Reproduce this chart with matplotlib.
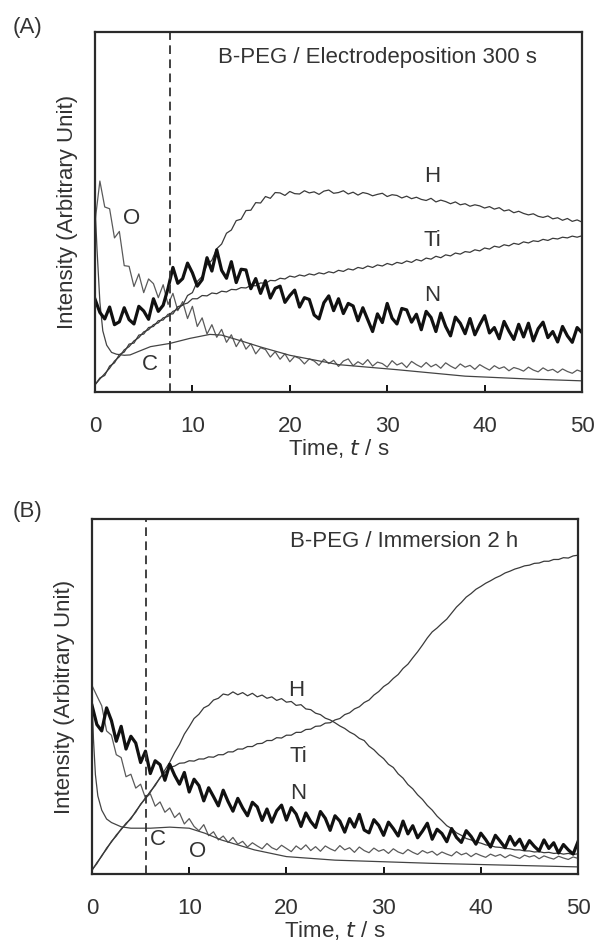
import numpy as np
import matplotlib
matplotlib.use("Agg")
import matplotlib.pyplot as plt

plt.rcParams['font.family'] = ['Liberation Sans', 'DejaVu Sans']

# ---------------- common time grid (s) for sampled noisy traces ----------------
t_grid = np.arange(0, 50.01, 0.5)

# ---------------- Panel A: B-PEG / Electrodeposition 300 s ----------------
A_H = [2.0, 3.9, 4.6, 7.2, 8.1, 10.4, 11.1, 13.3, 13.6, 15.8, 16.1, 17.9, 18.2, 19.8, 20.0, 21.6, 21.7, 23.7, 24.1, 26.8,
       27.6, 30.7, 32.1, 35.3, 36.6, 39.8, 41.1, 44.1, 45.0, 47.6, 48.0, 50.4, 50.5, 52.6, 52.5, 54.3, 53.8, 55.4,
       55.3, 54.6, 55.7, 55.1, 55.0, 55.9, 55.3, 55.6, 54.9, 55.8, 56.1, 55.2, 55.4, 55.9, 55.0, 55.5, 54.7, 55.4,
       55.1, 54.5, 54.9, 55.2, 54.3, 54.8, 54.6, 53.9, 54.4, 53.7, 54.1, 53.5, 53.2, 53.8, 52.8, 53.3, 52.9, 52.3,
       52.8, 52.0, 52.3, 51.6, 52.0, 51.7, 51.1, 51.5, 50.8, 51.2, 50.3, 50.6, 49.8, 50.2, 49.6, 49.2, 49.5, 48.8,
       48.5, 48.9, 48.1, 48.4, 47.7, 48.2, 47.4, 47.8, 47.2]
A_Ti = [2.0, 3.6, 5.1, 6.6, 8.6, 9.8, 11.7, 12.6, 14.2, 15.1, 16.7, 17.3, 18.7, 19.2, 20.6, 21.0, 22.4, 23.0, 24.3, 24.7,
        25.9, 25.9, 26.8, 26.7, 27.5, 27.3, 28.0, 27.8, 28.5, 28.4, 29.0, 28.9, 29.6, 29.5, 30.3, 30.2, 31.0, 30.9, 31.6, 31.4,
        32.2, 31.9, 32.5, 32.2, 32.8, 32.5, 33.1, 32.8, 33.4, 33.1, 33.8, 33.5, 34.2, 33.9, 34.6, 34.3, 35.0, 34.6, 35.3, 35.0,
        35.7, 35.3, 36.0, 35.7, 36.4, 36.0, 36.8, 36.4, 37.2, 36.9, 37.7, 37.3, 38.1, 37.8, 38.6, 38.3, 39.0, 38.8, 39.5, 39.2,
        40.0, 39.7, 40.5, 40.2, 40.9, 40.6, 41.3, 41.0, 41.7, 41.4, 42.0, 41.8, 42.4, 42.1, 42.7, 42.5, 43.0, 42.8, 43.3, 43.0,
        43.4]
A_O = [47.2, 58.6, 51.4, 50.9, 42.8, 44.6, 35.1, 34.9, 29.3, 32.8, 27.6, 31.4, 30.1, 26.2, 29.8, 24.3, 27.4, 22.6, 25.1, 20.4,
       23.8, 18.2, 20.6, 16.1, 18.7, 15.2, 17.4, 13.8, 15.9, 12.6, 14.8, 11.9, 13.4, 10.6, 12.3, 11.8, 9.7, 11.2, 9.1, 10.6,
       8.4, 9.9, 9.3, 7.8, 9.2, 8.6, 7.4, 9.1, 7.9, 8.8, 7.1, 8.6, 9.2, 7.3, 8.4, 7.6, 9.0, 7.2, 8.3, 7.9,
       6.9, 8.7, 7.5, 8.1, 6.8, 8.5, 7.6, 6.9, 8.2, 7.0, 7.7, 6.6, 8.1, 7.2, 6.5, 7.8, 6.9, 7.4, 6.3, 7.6,
       6.8, 6.1, 7.3, 6.5, 7.0, 5.9, 6.8, 6.4, 5.8, 6.9, 6.1, 5.6, 6.7, 5.9, 6.3, 5.4, 6.4, 5.7, 5.2, 6.1,
       5.6]
A_N = [25.8, 22.1, 20.3, 23.6, 18.7, 19.5, 23.4, 20.1, 18.9, 23.8, 22.5, 20.2, 25.9, 22.4, 24.1, 28.8, 34.6, 30.2, 31.5, 35.8,
       33.1, 29.4, 31.2, 37.3, 33.6, 39.5, 33.8, 31.6, 36.2, 30.4, 34.1, 33.9, 28.7, 31.5, 27.4, 30.9, 26.1, 28.8, 29.4, 24.9,
       26.8, 28.3, 23.6, 26.2, 25.7, 21.4, 20.3, 24.8, 26.7, 22.6, 25.9, 21.8, 24.6, 23.9, 19.8, 23.4, 20.1, 16.8, 21.7, 19.3,
       24.6, 20.5, 18.9, 23.2, 22.8, 19.4, 21.6, 17.3, 22.4, 20.7, 16.8, 21.9, 18.2, 15.6, 20.8, 19.1, 16.2, 20.4, 15.9, 18.7,
       21.2, 16.4, 17.9, 14.8, 19.6, 16.9, 14.6, 18.8, 15.3, 19.1, 14.2, 17.6, 19.4, 15.1, 16.8, 13.9, 18.2, 15.6, 13.8, 17.9,
       16.5]
A_C_t = [0, 0.2, 0.5, 0.8, 1.2, 1.7, 2.2, 3.0, 3.6, 4.5, 5.7, 7.7, 9.75, 11.8, 13.0, 15.0, 17.0, 20.0, 25.0, 31.0, 38.0, 44.6, 50.0]
A_C = [52, 40, 25, 17, 13, 11, 10.5, 10.2, 10.3, 11.3, 12.6, 13.5, 14.9, 16.0, 15.8, 14.2, 12.5, 10.2, 7.6, 6.2, 4.4, 3.6, 3.1]

# ---------------- Panel B: B-PEG / Immersion 2 h ----------------
B_H = [1.0, 3.2, 5.0, 7.3, 9.0, 11.0, 12.5, 14.3, 15.5, 17.7, 19.5, 21.5, 23.0, 25.2, 27.0, 29.3, 31.5, 34.2, 36.5, 39.4,
       41.5, 43.8, 45.0, 46.8, 47.5, 49.0, 49.5, 50.7, 50.4, 51.3, 50.5, 51.1, 50.2, 50.9, 49.9, 50.4, 49.5, 49.9, 48.9, 49.4,
       48.4, 48.6, 47.5, 47.7, 46.5, 46.3, 45.3, 44.9, 43.9, 43.4, 42.6, 41.7, 41.0, 40.0, 39.3, 38.2, 37.6, 36.0, 35.0, 33.6,
       32.5, 30.9, 30.0, 28.2, 27.0, 25.2, 24.0, 22.3, 21.0, 19.3, 18.0, 16.3, 15.0, 13.6, 12.8, 11.6, 10.9, 10.0, 9.6, 9.0,
       8.7, 8.2, 8.0, 7.6, 7.5, 7.2, 7.1, 6.8, 6.8, 6.5, 6.5, 6.2, 6.3, 6.0, 6.1, 5.8, 5.9, 5.6, 5.8, 5.5,
       5.7]
B_Ti = [1.2, 2.9, 5.2, 7.0, 9.2, 10.7, 12.7, 14.0, 15.8, 17.4, 19.7, 21.2, 23.3, 24.9, 27.2, 28.6, 30.0, 30.4, 31.2, 31.3,
        31.9, 31.8, 32.4, 32.4, 33.0, 32.9, 33.6, 33.6, 34.4, 34.4, 35.2, 35.2, 35.9, 35.9, 36.7, 36.8, 37.6, 37.6, 38.4, 38.3,
        39.1, 39.1, 39.9, 39.9, 40.7, 40.8, 41.6, 41.7, 42.5, 42.6, 43.4, 43.8, 44.9, 45.4, 46.5, 47.1, 48.3, 49.0, 50.4, 51.4,
        52.8, 53.7, 55.1, 56.2, 57.9, 59.1, 60.9, 62.6, 64.5, 66.5, 68.2, 69.3, 70.6, 71.8, 73.5, 75.2, 76.5, 78.0, 79.0, 80.2,
        81.0, 81.9, 82.6, 83.4, 84.0, 84.8, 85.3, 85.9, 86.3, 86.8, 87.0, 87.5, 87.6, 88.1, 88.1, 88.6, 88.6, 89.1, 89.0, 89.6,
        89.8]
B_O = [53.1, 50.2, 47.4, 40.3, 39.1, 33.6, 32.8, 27.4, 28.1, 24.2, 25.3, 21.4, 22.6, 19.1, 20.3, 17.4, 18.6, 15.9, 17.2, 14.1,
       15.6, 13.4, 12.2, 13.9, 10.8, 11.9, 9.6, 10.7, 8.9, 10.3, 8.4, 9.2, 7.6, 8.8, 7.9, 7.1, 8.6, 7.4, 6.8, 8.1,
       7.2, 6.3, 7.9, 6.9, 8.2, 6.6, 7.7, 6.4, 7.9, 7.1, 6.5, 8.0, 6.8, 7.4, 6.1, 7.6, 6.6, 6.0, 7.3, 6.4,
       6.9, 5.8, 7.1, 6.2, 5.7, 6.9, 6.1, 5.5, 6.6, 5.9, 6.4, 5.3, 6.2, 5.6, 5.1, 6.3, 5.4, 5.9, 4.9, 5.8,
       5.2, 4.7, 5.6, 5.0, 5.5, 4.6, 5.4, 4.9, 4.4, 5.3, 4.8, 5.2, 4.3, 5.1, 4.6, 4.2, 5.0, 4.5, 4.1, 4.8,
       4.4]
B_N = [47.5, 42.1, 40.3, 46.8, 43.2, 37.4, 41.6, 35.2, 38.8, 36.9, 31.4, 34.6, 28.3, 31.9, 30.8, 26.4, 30.9, 27.8, 25.3, 28.6,
       23.1, 26.7, 24.9, 20.6, 24.3, 21.8, 19.2, 23.6, 20.4, 17.7, 21.3, 18.6, 16.4, 20.2, 18.9, 15.1, 18.3, 14.6, 17.8, 19.4,
       15.2, 18.7, 16.9, 13.4, 17.2, 14.8, 13.1, 17.6, 15.7, 12.3, 16.4, 14.9, 11.8, 15.6, 13.2, 16.8, 12.4, 11.6, 15.3, 13.7,
       10.9, 14.6, 12.8, 10.7, 14.9, 11.3, 13.6, 10.2, 12.1, 14.3, 9.8, 12.6, 11.4, 9.1, 12.8, 10.3, 8.9, 12.2, 10.6, 8.4,
       11.5, 9.7, 7.6, 10.9, 9.2, 7.4, 10.6, 8.1, 9.8, 6.9, 9.4, 7.8, 6.5, 9.6, 7.2, 8.8, 5.9, 8.3, 6.8, 5.6,
       9.1]
B_C_t = [0, 0.15, 0.35, 0.6, 1.0, 1.5, 2.0, 3.0, 4.0, 6.0, 8.0, 10.0, 11.6, 13.3, 16.7, 20.0, 25.0, 35.0, 50.0]
B_C = [50, 38, 28, 22, 18, 15.5, 14.5, 13.3, 12.9, 12.9, 13.2, 12.9, 11.5, 9.6, 6.8, 4.9, 3.9, 3.0, 2.0]

x_ticks = [0, 10, 20, 30, 40, 50]
dash_A = 7.7
dash_B = 5.6

panels = [
    dict(rect=[95/595, 1-392/944, 487/595, 360/944], H=A_H, Ti=A_Ti, O=A_O, N=A_N, Ct=A_C_t, C=A_C,
         dash=dash_A, title="B-PEG / Electrodeposition 300 s", title_xy=(12.6, 93),
         labels={"O": (3.8, 48.3), "C": (5.6, 7.5), "H": (34.6, 59.8), "Ti": (34.6, 42.2), "N": (34.6, 26.9)},
         tag="(A)", tag_y=27),
    dict(rect=[92/595, 1-874/944, 486/595, 355/944], H=B_H, Ti=B_Ti, O=B_O, N=B_N, Ct=B_C_t, C=B_C,
         dash=dash_B, title="B-PEG / Immersion 2 h", title_xy=(20.4, 93.6),
         labels={"H": (21.0, 51.8), "Ti": (21.2, 33.0), "N": (21.2, 22.7), "C": (6.8, 9.6), "O": (10.9, 6.3)},
         tag="(B)", tag_y=512),
]

fig = plt.figure(figsize=(5.95, 9.44), dpi=100)
FS = 16
for p in panels:
    ax = fig.add_axes(p["rect"])
    ax.plot(t_grid, p["O"], color="#5a5a5a", lw=0.9)
    ax.plot(p["Ct"], p["C"], color="#444444", lw=0.9)
    ax.plot(t_grid, p["H"], color="#3a3a3a", lw=0.9)
    ax.plot(t_grid, p["Ti"], color="#3a3a3a", lw=0.9)
    ax.plot(t_grid, p["N"], color="#111111", lw=2.3)
    ax.axvline(p["dash"], color="#333333", lw=1.3, ls=(0, (4.8, 3.0)))
    ax.set_xlim(0, 50)
    ax.set_ylim(0, 100)
    ax.set_xticks(x_ticks)
    ax.set_xticklabels([str(v) for v in x_ticks], fontsize=FS, color="#333333")
    ax.tick_params(axis="x", direction="in", length=5, width=1.3, pad=17, top=False)
    ax.tick_params(axis="y", left=False, labelleft=False)
    for s in ax.spines.values():
        s.set_linewidth(1.6)
        s.set_color("#2a2a2a")
    ax.set_xlabel(r"Time, $\it{t}$ / s", fontsize=FS, color="#333333", labelpad=0)
    ax.set_ylabel("Intensity (Arbitrary Unit)", fontsize=FS, color="#333333", labelpad=12)
    ax.text(p["title_xy"][0], p["title_xy"][1], p["title"], fontsize=FS, color="#333333",
            ha="left", va="center")
    for name, (x, y) in p["labels"].items():
        ax.text(x, y, name, fontsize=FS, color="#333333", ha="center", va="center")
    fig.text(27/595, 1 - p["tag_y"]/944, p["tag"], fontsize=FS, color="#333333", ha="center", va="center")

fig.savefig("out.png", dpi=100)
